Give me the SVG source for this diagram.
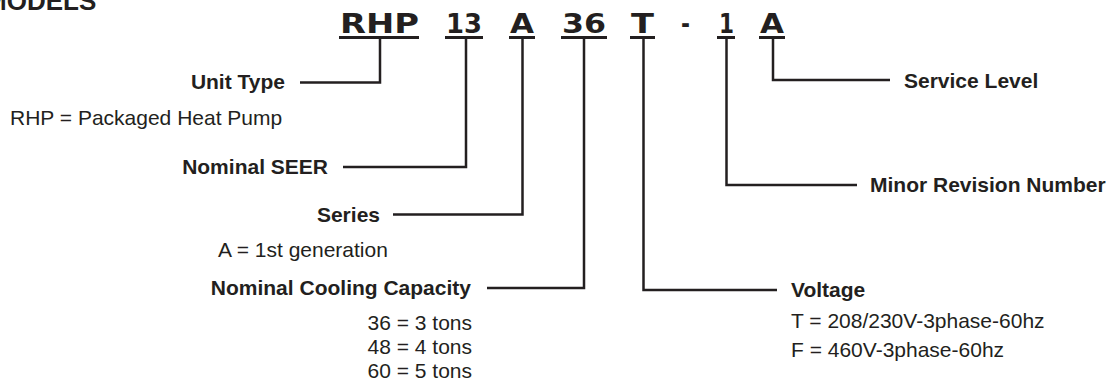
<svg xmlns="http://www.w3.org/2000/svg" width="1116" height="381" viewBox="0 0 1116 381">
<style>
.t{font-family:"Liberation Sans",Arial,sans-serif;font-size:21px;fill:#231f20}
.b{font-weight:bold}
.e{text-anchor:end}
.code{font-family:"DejaVu Sans",sans-serif;font-weight:bold;font-size:27px;fill:#231f20}
.ul{stroke:#231f20;stroke-width:3}
.c{fill:none;stroke:#231f20;stroke-width:2.5}
</style>
<rect width="1116" height="381" fill="#ffffff"/>
<text class="t b" x="-15" y="10" style="font-size:26px">MODELS</text>

<g id="code-rhp"><text class="code" x="340" y="33" textLength="79" lengthAdjust="spacingAndGlyphs">RHP</text><line class="ul" x1="339" y1="37.5" x2="419" y2="37.5"/></g>
<g id="code-13"><text class="code" x="446" y="33" textLength="36" lengthAdjust="spacingAndGlyphs">13</text><line class="ul" x1="445" y1="37.5" x2="483" y2="37.5"/></g>
<g id="code-a"><text class="code" x="510" y="33" textLength="24" lengthAdjust="spacingAndGlyphs">A</text><line class="ul" x1="509" y1="37.5" x2="535" y2="37.5"/></g>
<g id="code-36"><text class="code" x="562" y="33" textLength="44" lengthAdjust="spacingAndGlyphs">36</text><line class="ul" x1="561" y1="37.5" x2="607" y2="37.5"/></g>
<g id="code-t"><text class="code" x="631" y="33" textLength="23" lengthAdjust="spacingAndGlyphs">T</text><line class="ul" x1="630" y1="37.5" x2="655" y2="37.5"/></g>
<g id="code-dash"><text class="code" x="681" y="33" textLength="9" lengthAdjust="spacingAndGlyphs">-</text></g>
<g id="code-1"><text class="code" x="719" y="33" textLength="15" lengthAdjust="spacingAndGlyphs">1</text><line class="ul" x1="717" y1="37.5" x2="735" y2="37.5"/></g>
<g id="code-a2"><text class="code" x="760" y="33" textLength="24" lengthAdjust="spacingAndGlyphs">A</text><line class="ul" x1="759" y1="37.5" x2="785" y2="37.5"/></g>

<g id="connectors">
<path class="c" d="M380 38 V82.5 H300"/>
<path class="c" d="M466 38 V167 H343"/>
<path class="c" d="M522.5 38 V214.5 H393"/>
<path class="c" d="M584 38 V288 H487"/>
<path class="c" d="M643.5 38 V290 H777"/>
<path class="c" d="M726.5 38 V185 H857"/>
<path class="c" d="M773 38 V80 H890"/>
</g>

<g id="unit-type">
<text class="t b e" x="285" y="89">Unit Type</text>
<text class="t" x="10" y="125">RHP = Packaged Heat Pump</text>
</g>
<g id="nominal-seer">
<text class="t b e" x="328" y="174">Nominal SEER</text>
</g>
<g id="series">
<text class="t b e" x="380" y="221.5">Series</text>
<text class="t" x="218" y="257">A = 1st generation</text>
</g>
<g id="capacity">
<text class="t b e" x="471" y="295">Nominal Cooling Capacity</text>
<text class="t e" x="472" y="330">36 = 3 tons</text>
<text class="t e" x="472" y="354">48 = 4 tons</text>
<text class="t e" x="472" y="378">60 = 5 tons</text>
</g>
<g id="voltage">
<text class="t b" x="791" y="297">Voltage</text>
<text class="t" x="791" y="327.5">T = 208/230V-3phase-60hz</text>
<text class="t" x="791" y="357">F = 460V-3phase-60hz</text>
</g>
<g id="minor-revision">
<text class="t b" x="870" y="192">Minor Revision Number</text>
</g>
<g id="service-level">
<text class="t b" x="904" y="88">Service Level</text>
</g>
</svg>
